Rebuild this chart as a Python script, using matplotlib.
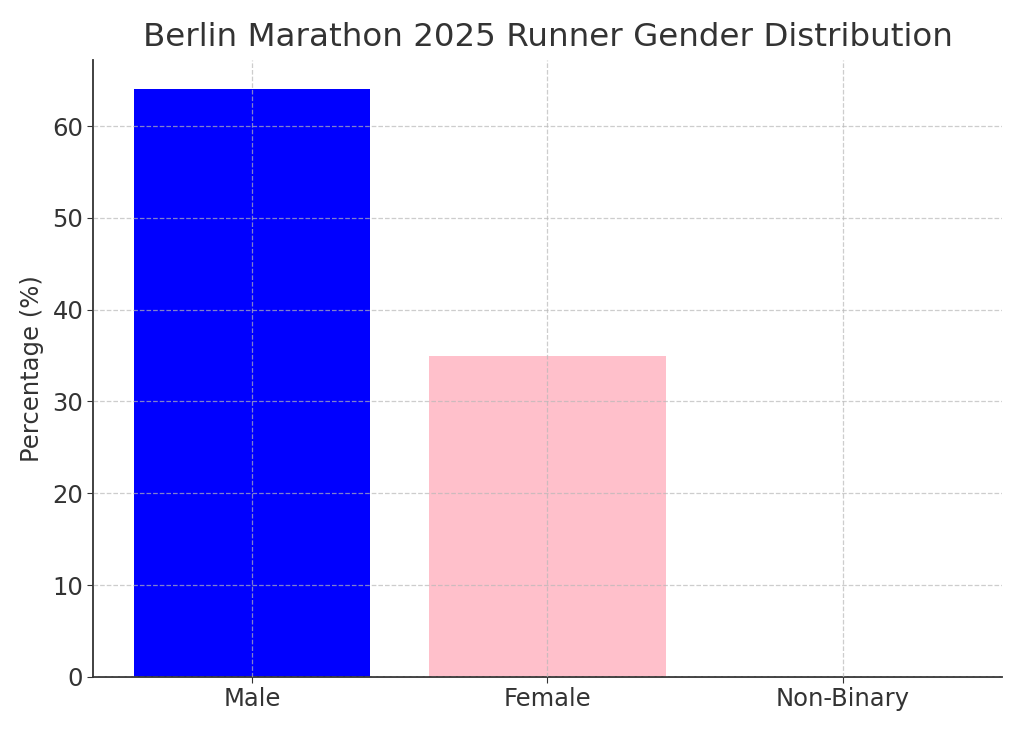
import matplotlib
matplotlib.use("Agg")
import matplotlib.pyplot as plt

categories = ["Male", "Female", "Non-Binary"]
percentages = [64, 35, 0]
colors = ["blue", "pink", "purple"]

plt.rcParams['font.family'] = ['DejaVu Sans']
fig = plt.figure(figsize=(10.24, 7.31), dpi=100)
ax = fig.add_axes([0.0908, 0.074, 0.8877, 0.844])
ax.bar(categories, percentages, color=colors, width=0.8)
ax.set_axisbelow(False)
ax.grid(True, linestyle='--', color='#b8b8b8', linewidth=0.9, alpha=0.7)
ax.set_title("Berlin Marathon 2025 Runner Gender Distribution", fontsize=23.4, color='#333333', pad=10)
ax.set_ylabel("Percentage (%)", fontsize=17.5, color='#333333', labelpad=6)
ax.tick_params(labelsize=17.5, colors='#333333', length=4, pad=3)
for s in ['top', 'right']:
    ax.spines[s].set_visible(False)
for s in ['left', 'bottom']:
    ax.spines[s].set_color('#333333')
    ax.spines[s].set_linewidth(1.3)
fig.savefig("out.png", dpi=100)
